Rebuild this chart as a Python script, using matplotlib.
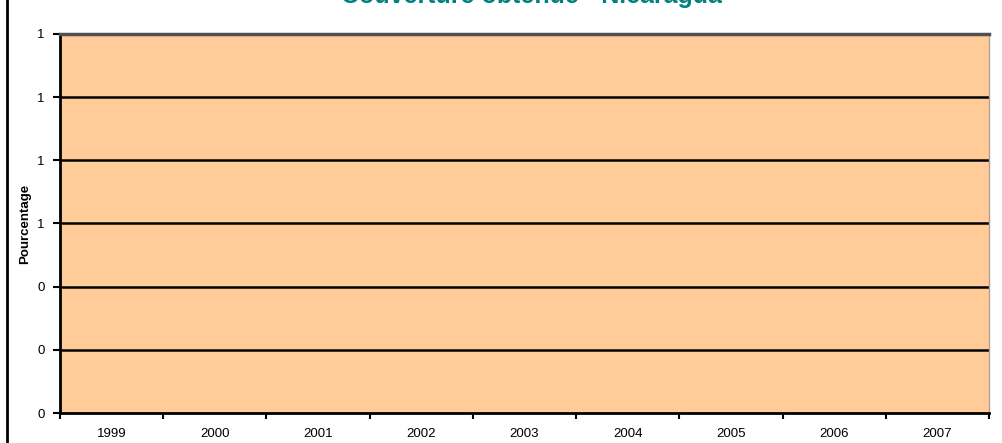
import matplotlib
matplotlib.use("Agg")
import matplotlib.pyplot as plt
from matplotlib.ticker import FormatStrFormatter, FixedLocator
from matplotlib.lines import Line2D

years = ["1999", "2000", "2001", "2002", "2003", "2004", "2005", "2006", "2007"]
coverage = [0, 0, 0, 0, 0, 0, 0, 0, 0]
yticks = [0, 0.2, 0.4, 0.6, 0.8, 1.0, 1.2]
title = "Couverture obtenue - Nicaragua"
ylabel = "Pourcentage"

plt.rcParams['font.family'] = ['Liberation Sans', 'DejaVu Sans']

fig = plt.figure(figsize=(10.02, 4.43), dpi=100)
W, H = 1002, 443
L, R, T, B = 60, 989, 34, 413
ax = fig.add_axes([L / W, (H - B) / H, (R - L) / W, (B - T) / H])
ax.set_facecolor("#FFCC99")

x = list(range(len(years)))
ax.bar(x, coverage, width=0.6, color="#993366")
ax.set_xlim(-0.5, len(years) - 0.5)
ax.set_ylim(0, 1.2)

ax.set_yticks(yticks)
ax.yaxis.set_major_formatter(FormatStrFormatter("%.0f"))
for v in yticks[1:]:
    ax.axhline(v, color="black", lw=1.8, zorder=1)

ax.set_xticks(x)
ax.set_xticklabels(years)
ax.xaxis.set_minor_locator(FixedLocator([i - 0.5 for i in range(len(years) + 1)]))
ax.tick_params(axis="x", which="major", length=0, pad=11, labelsize=9.5)
ax.tick_params(axis="x", which="minor", length=4, width=1.5, color="black", direction="out")
ax.tick_params(axis="y", length=5, width=1.5, color="black", pad=6, labelsize=9.5)

for s in ["left", "bottom"]:
    ax.spines[s].set_color("black")
    ax.spines[s].set_linewidth(2)
ax.spines["top"].set_color("#505050")
ax.spines["top"].set_linewidth(2.5)
ax.spines["right"].set_color("#b0a090")
ax.spines["right"].set_linewidth(1)

fig.text(25 / W, 0.5 * ((H - B) + (H - T)) / H, ylabel, rotation=90, ha="center",
         va="center", fontsize=9.5, fontweight="bold")
fig.text(531 / W, 1 - 3.5 / H, title, ha="center", va="baseline", fontsize=18,
         fontweight="bold", color="#008080")

fig.add_artist(Line2D([7 / W, 7 / W], [0, 1], color="black", lw=2, transform=fig.transFigure))

fig.savefig("out.png", dpi=100)
